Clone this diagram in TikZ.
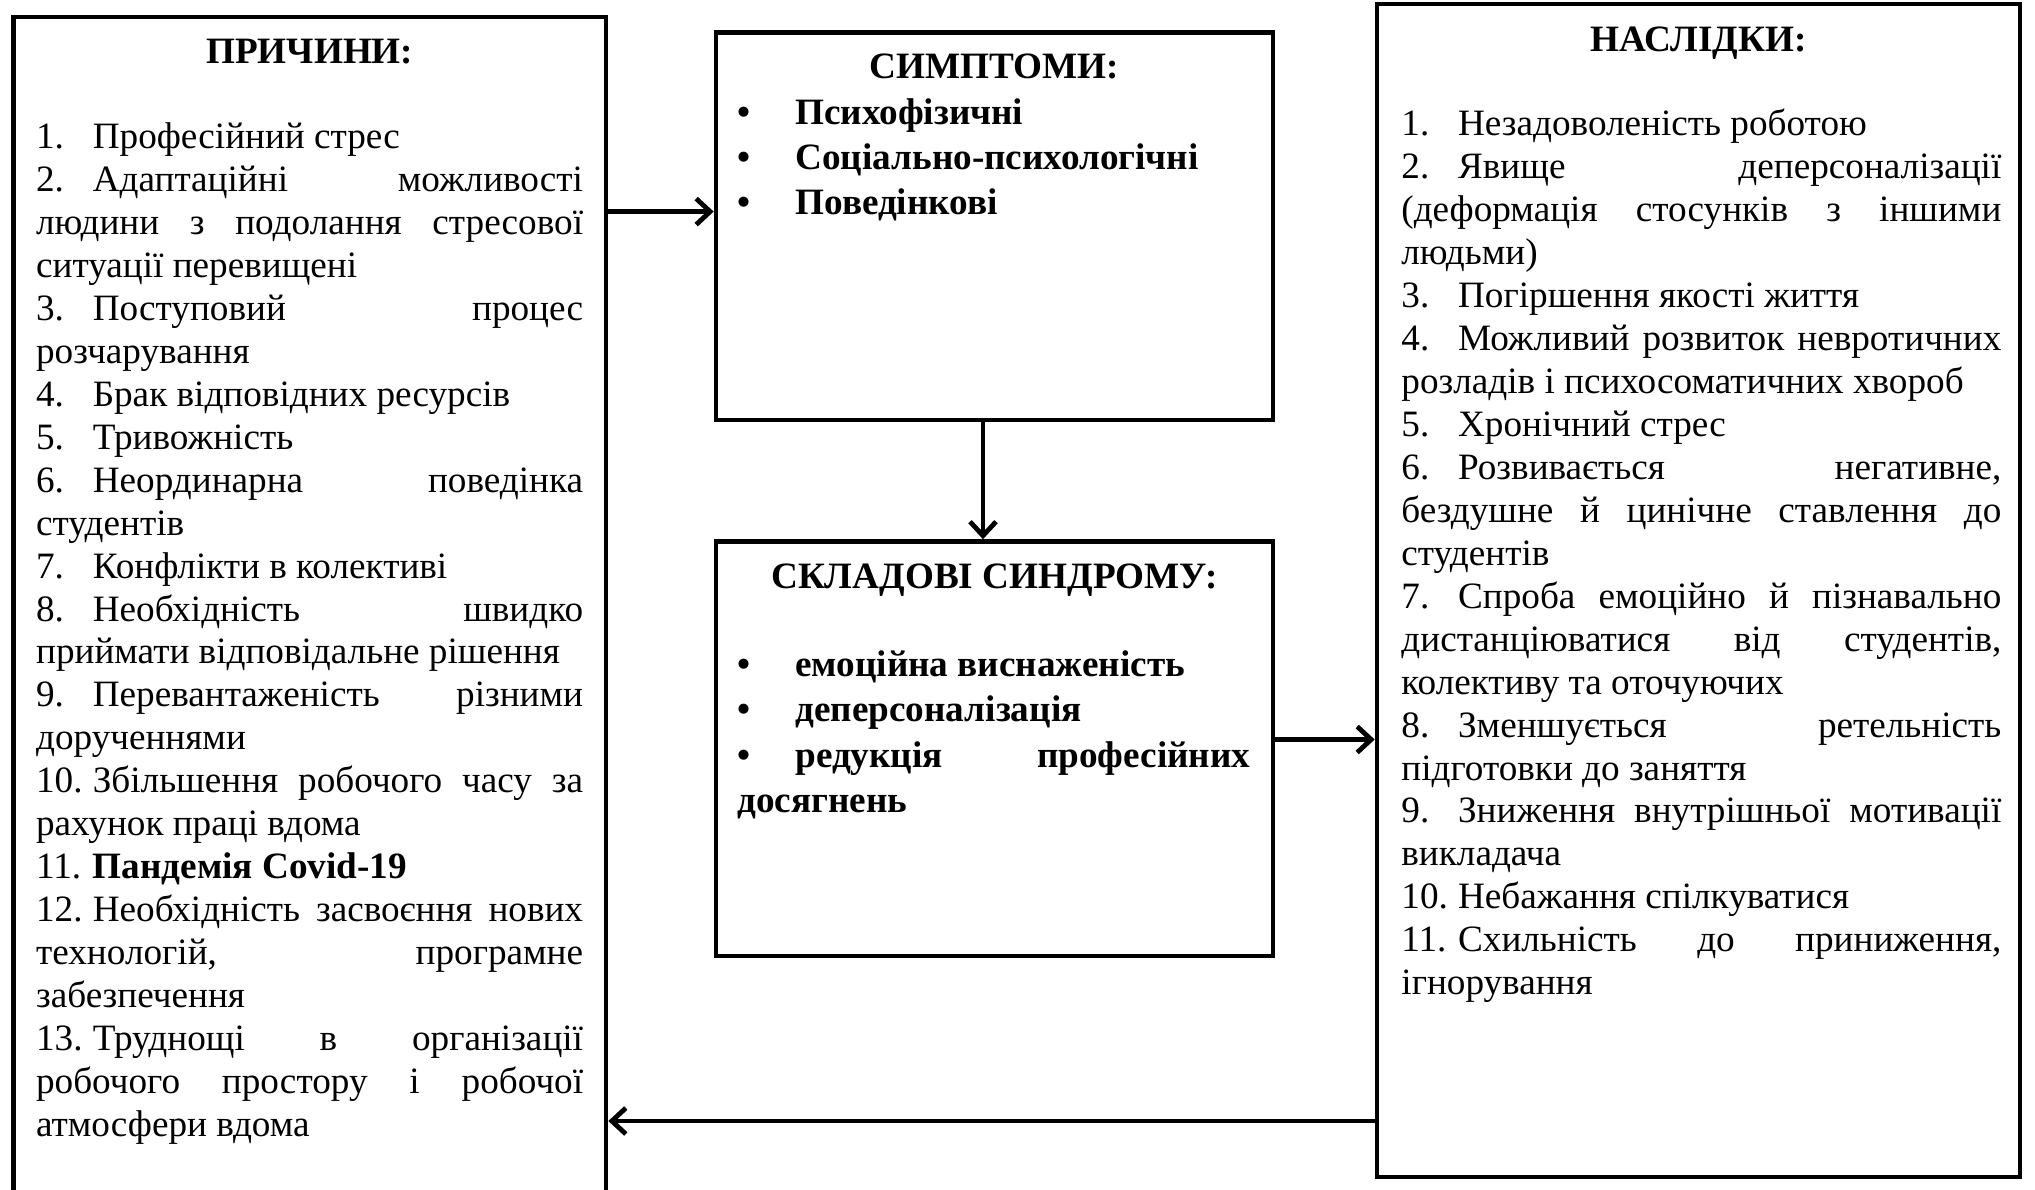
\documentclass[tikz,border=0pt]{standalone}
\usepackage{fontspec}
\setmainfont{Liberation Serif}
\usetikzlibrary{arrows.meta,fit}
\newcommand\NP{\par}
\newcommand\Num[1]{\makebox[28.35pt][l]{#1}}
\newcommand\Bul{\makebox[29pt][l]{\textbullet}}
\begin{document}
\tolerance=10000 \hbadness=10000 \hyphenpenalty=10000 \exhyphenpenalty=10000
\begin{tikzpicture}[x=0.5pt,y=-0.5pt,
  border/.style={draw, line width=2.3pt},
  frame/.style={inner sep=0pt, outer sep=1.15pt},
  conn/.style={line width=2.4pt, -{Straight Barb[length=7pt,width=13pt]}},
  boxtitle/.style={anchor=base, inner sep=0pt, font=\fontsize{18.6pt}{21.47pt}\selectfont\bfseries},
  listtext/.style={anchor=base west, inner sep=0pt, align=justify, font=\fontsize{18.6pt}{21.47pt}\selectfont},
  bullets/.style={anchor=base west, inner sep=0pt, align=justify, text width=256.5pt}
]
\useasboundingbox (0,0) rectangle (2035,1189);
\clip (0,0) rectangle (2035,1189);

% boxes
\node[frame, fit={(13.4,17) (606,1195)}] (causes) {};
\draw[border] (13.4,1195) -- (13.4,17) -- (606,17) -- (606,1195);
\node[border, frame, fit={(716,32.5) (1273,420)}] (symptoms) {};
\node[border, frame, fit={(716,541.5) (1273,956)}] (components) {};
\node[border, frame, fit={(1377,4) (2020,1177)}] (consequences) {};

% titles
\node[boxtitle] (tcauses) at (309.7,63) {ПРИЧИНИ:};
\node[boxtitle] (tsym) at (994.5,78.5) {СИМПТОМИ:};
\node[boxtitle] (tcomp) at (994.5,588.7) {СКЛАДОВІ СИНДРОМУ:};
\node[boxtitle] (tcons) at (1698.5,51.7) {НАСЛІДКИ:};

% lists
\node[listtext, text width=273.5pt] (lcauses) at (35.7,148.7) {%
\Num{1.}Професійний стрес\NP
\Num{2.}Адаптаційні можливості\linebreak людини з подолання стресової\linebreak ситуації перевищені\NP
\Num{3.}Поступовий процес\linebreak розчарування\NP
\Num{4.}Брак відповідних ресурсів\NP
\Num{5.}Тривожність\NP
\Num{6.}Неординарна поведінка\linebreak студентів\NP
\Num{7.}Конфлікти в колективі\NP
\Num{8.}Необхідність швидко\linebreak приймати відповідальне рішення\NP
\Num{9.}Перевантаженість різними\linebreak дорученнями\NP
\Num{10.}Збільшення робочого часу за\linebreak рахунок праці вдома\NP
\Num{11.}\textbf{Пандемія Covid-19}\NP
\Num{12.}Необхідність засвоєння нових\linebreak технологій, програмне\linebreak забезпечення\NP
\Num{13.}Труднощі в організації\linebreak робочого простору і робочої\linebreak атмосфери вдома};

\node[listtext, text width=300pt] (lcons) at (1401,135.9) {%
\Num{1.}Незадоволеність роботою\NP
\Num{2.}Явище деперсоналізації\linebreak (деформація стосунків з іншими\linebreak людьми)\NP
\Num{3.}Погіршення якості життя\NP
\Num{4.}Можливий розвиток невротичних\linebreak розладів і психосоматичних хвороб\NP
\Num{5.}Хронічний стрес\NP
\Num{6.}Розвивається негативне,\linebreak бездушне й цинічне ставлення до\linebreak студентів\NP
\Num{7.}Спроба емоційно й пізнавально\linebreak дистанціюватися від студентів,\linebreak колективу та оточуючих\NP
\Num{8.}Зменшується ретельність\linebreak підготовки до заняття\NP
\Num{9.}Зниження внутрішньої мотивації\linebreak викладача\NP
\Num{10.}Небажання спілкуватися\NP
\Num{11.}Схильність до приниження,\linebreak ігнорування};

\node[bullets, font=\fontsize{18.6pt}{22.4pt}\selectfont\bfseries] (lsym) at (737,124.4) {%
\Bul Психофізичні\NP
\Bul Соціально-психологічні\NP
\Bul Поведінкові};

\node[bullets, font=\fontsize{18.6pt}{22.8pt}\selectfont\bfseries] (lcomp) at (737,676) {%
\Bul емоційна виснаженість\NP
\Bul деперсоналізація\NP
\Bul редукція професійних\linebreak досягнень};

% connectors
\coordinate (y1) at (0,211.6);
\coordinate (x2) at (983,0);
\coordinate (y3) at (0,739.5);
\coordinate (y4) at (0,1121);
\draw[conn] (causes.east |- y1) -- (symptoms.west |- y1);
\draw[conn] (symptoms.south -| x2) -- (components.north -| x2);
\draw[conn] (components.east |- y3) -- (consequences.west |- y3);
\draw[conn] (consequences.west |- y4) -- (causes.east |- y4);
\end{tikzpicture}
\end{document}
